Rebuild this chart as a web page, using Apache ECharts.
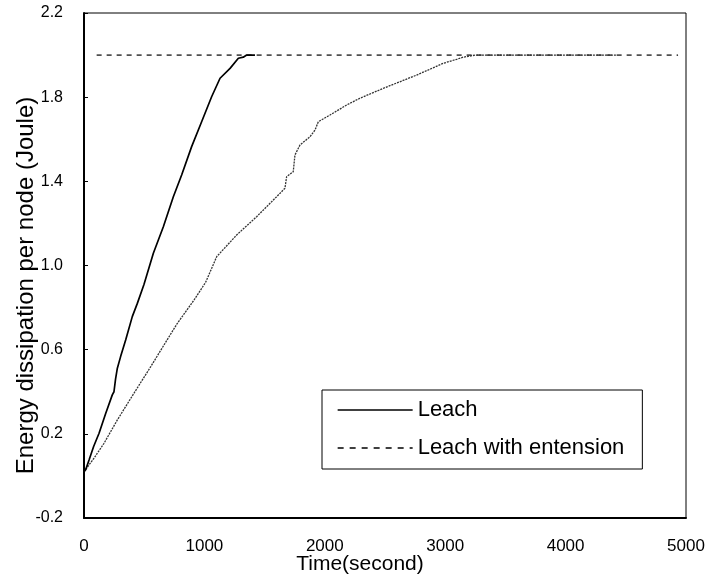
<!DOCTYPE html>
<html>
<head>
<meta charset="utf-8">
<script src="https://cdn.jsdelivr.net/npm/echarts@6/dist/echarts.min.js"></script>
<style>
  html, body { margin: 0; padding: 0; background: #fff; }
  #chart { width: 705px; height: 581px; }
</style>
</head>
<body>
<div id="chart"></div>
<script>
// Data
const leachTime = [0, 14, 42, 80, 125, 180, 235, 249, 262, 277, 304, 346, 401, 443, 498, 576, 659, 742, 811, 894, 977, 1060, 1130, 1213, 1282, 1323, 1351, 1420];
const leachEnergy = [0.02, 0.03, 0.076, 0.14, 0.203, 0.297, 0.385, 0.40, 0.46, 0.512, 0.567, 0.646, 0.757, 0.82, 0.91, 1.058, 1.184, 1.327, 1.43, 1.565, 1.683, 1.802, 1.89, 1.937, 1.985, 1.99, 2.0, 2.0];

const extTime = [0, 14, 83, 166, 277, 415, 554, 664, 775, 914, 1010, 1102, 1268, 1434, 1600, 1669, 1683, 1738, 1752, 1794, 1877, 1919, 1946, 2043, 2182, 2292, 2486, 2763, 2984, 3095, 3150, 3250, 3600, 4000, 4424];
const extEnergy = [0.02, 0.02, 0.084, 0.155, 0.266, 0.393, 0.519, 0.622, 0.725, 0.836, 0.92, 1.042, 1.145, 1.232, 1.327, 1.367, 1.422, 1.446, 1.525, 1.573, 1.612, 1.644, 1.683, 1.715, 1.763, 1.795, 1.842, 1.905, 1.961, 1.98, 1.99, 2.0, 2.0, 2.0, 2.0];

const refTime = [105, 4934];
const refEnergy = [2.0, 2.0];

const seriesNames = ['Leach', 'Leach with entension'];
const xTitle = 'Time(second)';
const yTitle = 'Energy dissipation per node (Joule)';

const FONT = "'Liberation Sans', Arial, sans-serif";
const pair = (xs, ys) => xs.map((x, i) => [x, ys[i]]);

const chart = echarts.init(document.getElementById('chart'), null, { renderer: 'canvas' });
chart.setOption({
  animation: false,
  backgroundColor: '#fff',
  textStyle: { fontFamily: FONT, color: '#000' },
  grid: { left: 84, right: 19, top: 13, bottom: 63, containLabel: false, outerBoundsMode: 'none',
    show: true, borderColor: '#000', borderWidth: 1, backgroundColor: 'transparent' },
  legend: {
    orient: 'vertical',
    left: 322, top: 390,
    padding: [9, 18, 10, 15],
    itemWidth: 75, itemHeight: 14, itemGap: 16,
    borderColor: '#000', borderWidth: 1,
    backgroundColor: '#fff',
    textStyle: { fontFamily: FONT, fontSize: 22, color: '#000' },
    data: [
      { name: seriesNames[0], itemStyle: { opacity: 0 }, lineStyle: { color: '#000', width: 1.3, type: 'solid' } },
      { name: seriesNames[1], itemStyle: { opacity: 0 }, lineStyle: { color: '#000', width: 1.3, type: [6, 6] } }
    ]
  },
  xAxis: {
    type: 'value', min: 0, max: 5000, interval: 1000,
    name: xTitle, nameLocation: 'middle', nameGap: 36, nameMoveOverlap: false,
    nameTextStyle: { fontFamily: FONT, fontSize: 21, color: '#000', padding: [0, 50, 0, 0] },
    axisLine: { show: true, onZero: false, lineStyle: { color: '#000', width: 2 } },
    axisTick: { show: false },
    axisLabel: { fontFamily: FONT, fontSize: 17, color: '#000', margin: 20, showMaxLabel: true, showMinLabel: true,
      formatter: v => String(Math.round(v)) },
    splitLine: { show: false }
  },
  yAxis: {
    type: 'value', min: -0.2, max: 2.2, interval: 0.4,
    name: yTitle, nameLocation: 'middle', nameGap: 46, nameMoveOverlap: false,
    nameTextStyle: { fontFamily: FONT, fontSize: 24, color: '#000', padding: [0, 40, 0, 0] },
    axisLine: { show: true, onZero: false, lineStyle: { color: '#000', width: 2 } },
    axisTick: { show: true, inside: true, length: 4, lineStyle: { color: '#000', width: 1 } },
    axisLabel: { fontFamily: FONT, fontSize: 16, color: '#000', margin: 21, showMaxLabel: true, showMinLabel: true,
      formatter: v => (Math.round(v * 10) / 10).toFixed(1) },
    splitLine: { show: false }
  },
  series: [
    {
      name: seriesNames[0], type: 'line', symbol: 'none', data: pair(leachTime, leachEnergy),
      lineStyle: { color: '#000', width: 1.7 }, itemStyle: { color: '#000' }, z: 4
    },
    {
      name: seriesNames[1], type: 'line', symbol: 'none', data: pair(extTime, extEnergy),
      lineStyle: { color: '#333', width: 1.3, type: [2, 1] }, itemStyle: { color: '#000' }, z: 3
    },
    {
      name: 'reference', type: 'line', symbol: 'none', data: pair(refTime, refEnergy),
      lineStyle: { color: '#000', width: 1.2, type: [5, 5] }, itemStyle: { color: '#000' }, z: 2,
      silent: true
    }
  ]
});
</script>
</body>
</html>
